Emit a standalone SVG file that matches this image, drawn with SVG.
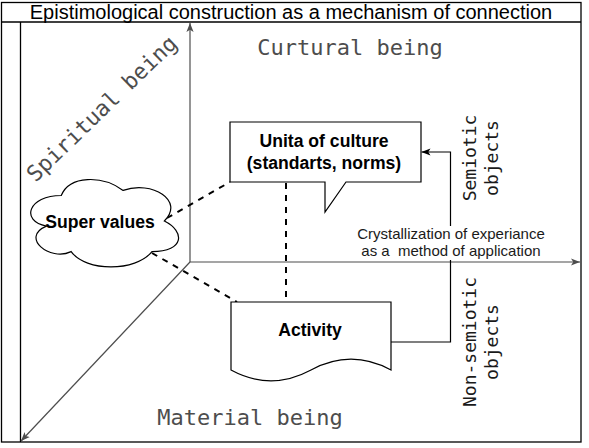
<svg xmlns="http://www.w3.org/2000/svg" width="589" height="448" viewBox="0 0 589 448">
<style>
.frame{fill:none;stroke:#000;stroke-width:1.3}
.axis{fill:none;stroke:#4d4d4d;stroke-width:1.2}
.dash{fill:none;stroke:#000;stroke-width:2;stroke-dasharray:6 6}
.shape{fill:#fff;stroke:#000;stroke-width:1.2}
.bold{font-family:"Liberation Sans",Arial,sans-serif;font-weight:bold;font-size:17.6px;fill:#000;text-anchor:middle}
.mono{font-family:"DejaVu Sans Mono",monospace;font-size:22px;fill:#4d4d4d;text-anchor:middle}
.mono2{font-family:"DejaVu Sans Mono",monospace;font-size:18px;fill:#1a1a1a;text-anchor:middle}
.reg{font-family:"Liberation Sans",Arial,sans-serif;font-size:15px;fill:#1a1a1a;text-anchor:middle}
</style>
<defs>
<marker id="ag" viewBox="0 0 10 10" refX="10" refY="5" markerWidth="9" markerHeight="9" markerUnits="userSpaceOnUse" orient="auto"><path d="M0,1 L10,5 L0,9 L2.5,5 z" fill="#4d4d4d"/></marker>
<marker id="ab" viewBox="0 0 10 10" refX="10" refY="5" markerWidth="9" markerHeight="9" markerUnits="userSpaceOnUse" orient="auto"><path d="M0,1 L10,5 L0,9 L2.5,5 z" fill="#000"/></marker>
</defs>
<rect width="589" height="448" fill="#fff"/>
<g id="frame">
<rect class="frame" x="1.5" y="2.5" width="579.5" height="439.5"/>
<line class="frame" x1="1.5" y1="22" x2="581" y2="22"/>
<line class="frame" x1="20.5" y1="22" x2="20.5" y2="442"/>
<text x="291" y="18.5" style="font-family:'Liberation Sans',Arial,sans-serif;font-size:20px;fill:#000;text-anchor:middle">Epistimological construction as a mechanism of connection</text>
</g>
<g id="connectors">
<line class="axis" x1="190" y1="262" x2="190" y2="23" marker-end="url(#ag)"/>
<line class="axis" x1="190" y1="262" x2="580" y2="262" marker-end="url(#ag)"/>
<line class="axis" x1="190" y1="262" x2="21" y2="441" marker-end="url(#ag)"/>
<line class="dash" x1="167" y1="218" x2="230" y2="182"/>
<line class="dash" x1="286" y1="183" x2="286" y2="302"/>
<line class="dash" x1="152" y1="253" x2="237" y2="302"/>
<path d="M391,342 H450.5 V152 H421.5" fill="none" stroke="#000" stroke-width="1.2" marker-end="url(#ab)"/>
</g>
<g id="unita">
<path class="shape" d="M230,122 H421 V182 H346 L325,212 V182 H230 Z"/>
<text class="bold" x="324" y="147">Unita of culture</text>
<text class="bold" x="324" y="169">(standarts, norms)</text>
</g>
<g id="super-values">
<path class="shape" transform="translate(20,170) scale(165,102)" vector-effect="non-scaling-stroke" d="M0.25,0.25 C0.05,0.25 0,0.5 0.16,0.55 C0,0.66 0.18,0.9 0.31,0.8 C0.4,1 0.7,1 0.8,0.8 C1,0.8 1,0.6 0.875,0.5 C1,0.3 0.8,0.1 0.625,0.2 C0.5,0.05 0.3,0.05 0.25,0.25 Z"/>
<text class="bold" x="100" y="228">Super values</text>
</g>
<g id="activity">
<path class="shape" d="M231,302 H391 V370 Q351,348.4 311,370 Q271,391.6 231,370 Z"/>
<text class="bold" x="310" y="336">Activity</text>
</g>
<g id="crystallization-label">
<rect x="354" y="226" width="192" height="34" fill="#fff"/>
<text class="reg" x="451" y="239">Crystallization of experiance</text>
<text class="reg" x="451" y="256" style="white-space:pre">as a  method of application</text>
</g>
<g id="labels">
<text class="mono" x="350" y="55">Curtural being</text>
<text class="mono" x="250" y="425">Material being</text>
<text class="mono" transform="translate(107,114) rotate(-44)" x="0" y="0">Spiritual being</text>
<text class="mono2" transform="translate(476,158) rotate(-90)"><tspan x="0" y="0">Semiotic</tspan><tspan x="0" y="22">objects</tspan></text>
<text class="mono2" transform="translate(476,342) rotate(-90)"><tspan x="0" y="0">Non-semiotic</tspan><tspan x="0" y="22">objects</tspan></text>
</g>
</svg>
